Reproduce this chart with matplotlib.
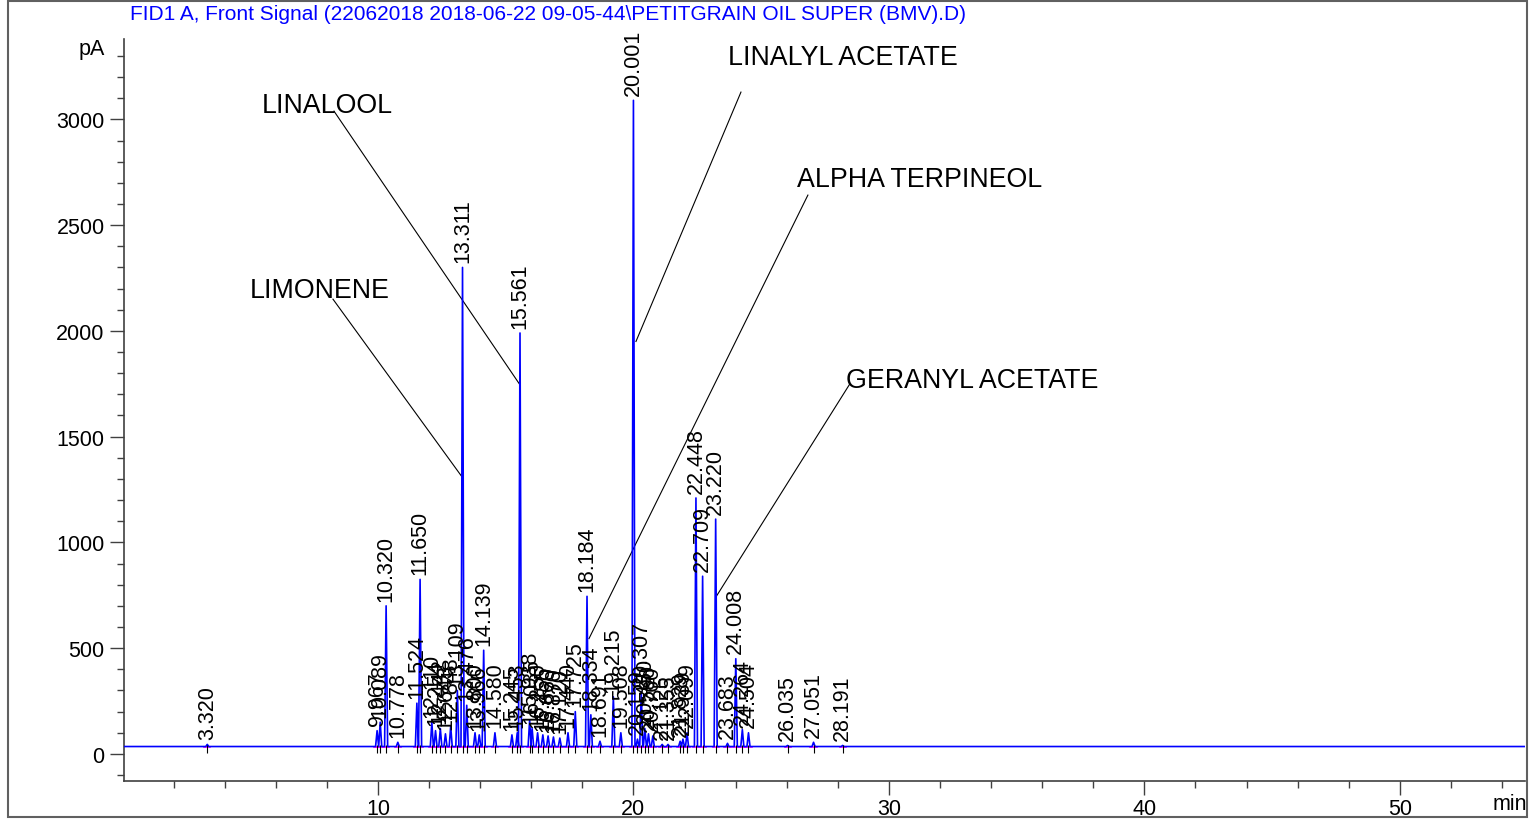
import matplotlib
matplotlib.use("Agg")
import matplotlib.pyplot as plt
from matplotlib.patches import Rectangle
from matplotlib.ticker import MultipleLocator
import numpy as np

plt.rcParams['font.family'] = ['Liberation Sans', 'DejaVu Sans']

# 피크 데이터 (retention time [min], 피크 높이 [pA])
rt = [3.320, 9.967, 10.089, 10.320, 10.778, 11.524, 11.650, 12.110, 12.254, 12.442,
      12.643, 12.848, 13.109, 13.311, 13.476, 13.800, 13.966, 14.139, 14.580, 15.245,
      15.453, 15.561, 15.938, 16.035, 16.250, 16.455, 16.660, 16.870, 17.120, 17.440,
      17.725, 18.184, 18.334, 18.691, 19.215, 19.508, 20.001, 20.159, 20.307, 20.450,
      20.590, 20.760, 21.125, 21.355, 21.829, 21.939, 22.099, 22.448, 22.709, 23.220,
      23.683, 24.008, 24.264, 24.504, 26.035, 27.051, 28.191]
height = [45, 110, 150, 700, 55, 240, 825, 150, 110, 120,
          95, 130, 300, 2300, 230, 100, 90, 490, 100, 90,
          100, 1990, 160, 120, 100, 90, 85, 80, 75, 100,
          200, 745, 185, 60, 270, 100, 3090, 70, 295, 120,
          95, 85, 45, 45, 60, 70, 100, 1210, 840, 1110,
          50, 450, 115, 100, 40, 55, 40]
baseline = 35

# 화합물 이름 (이름, 피크 위치, 글자 위치, 선 시작)
names = ["LINALOOL", "LIMONENE", "LINALYL ACETATE", "ALPHA TERPINEOL", "GERANYL ACETATE"]
name_peak = [(15.56, 1745), (13.29, 1310), (20.10, 1950), (18.26, 545), (23.23, 742)]
name_text = [(5.46, 3067), (4.99, 2193), (23.70, 3294), (26.40, 2717), (28.32, 1767)]
name_line = [(8.28, 3039), (8.24, 2150), (24.21, 3129), (26.83, 2642), (28.47, 1749)]

title = "FID1 A, Front Signal (22062018 2018-06-22 09-05-44\\PETITGRAIN OIL SUPER (BMV).D)"

fig = plt.figure(figsize=(15.29, 8.2), dpi=100)
ax = fig.add_axes([124 / 1529, 1 - 782 / 820, (1525 - 124) / 1529, (782 - 40) / 820])

# 크로마토그램 (피크를 좁은 삼각형으로)
hw = 0.06
xs, ys = [0.06], [baseline]
for t, h in sorted(zip(rt, height)):
    xs += [t - hw, t, t + hw]
    ys += [baseline, h, baseline]
xs.append(54.9)
ys.append(baseline)
ax.plot(xs, ys, color="#0000ff", lw=1.2, zorder=3)

# 적분 베이스라인 / 마커
for t in rt:
    ax.plot([t - 0.12, t + 0.12], [baseline, baseline], color="#ff00ff", lw=1.2, zorder=2)
ax.vlines(rt, baseline - 30, baseline + 5, color="black", lw=0.8, zorder=4)

# 피크 라벨
for t, h in zip(rt, height):
    ax.text(t, h + 25, "%.3f" % t, rotation=90, ha="center", va="bottom",
            fontsize=15.5, zorder=5)

# 화합물 이름 + 지시선
for n, p, tx, ln in zip(names, name_peak, name_text, name_line):
    ax.text(tx[0], tx[1], n, fontsize=19.3, va="center", ha="left")
    ax.plot([ln[0], p[0]], [ln[1], p[1]], color="black", lw=0.8)

ax.set_xlim(0.06, 54.9)
ax.set_ylim(-128, 3380)
ax.xaxis.set_minor_locator(MultipleLocator(2))
ax.yaxis.set_minor_locator(MultipleLocator(100))
ax.set_xticks([10, 20, 30, 40, 50])
ax.set_yticks([0, 500, 1000, 1500, 2000, 2500, 3000])
ax.tick_params(which="major", length=10, width=1, labelsize=15.5, color="#404040", pad=4)
ax.tick_params(axis="x", which="major", pad=2)
ax.tick_params(which="minor", length=5, width=1, color="#404040")
for s in ["top", "right"]:
    ax.spines[s].set_visible(False)
for s in ["left", "bottom"]:
    ax.spines[s].set_color("#404040")
    ax.spines[s].set_linewidth(1.2)

fig.text(105 / 1529, 1 - 50 / 820, "pA", ha="right", va="center", fontsize=15.5)
fig.text(1527 / 1529, 1 - 805 / 820, "min", ha="right", va="center", fontsize=15.5)
fig.text(130 / 1529, 1 - 14 / 820, title, ha="left", va="center", color="#0000ff", fontsize=15)

fig.add_artist(Rectangle((8 / 1529, 2 / 820), (1527 - 8) / 1529, (818 - 2) / 820,
                         transform=fig.transFigure, fill=False, edgecolor="#606060", lw=1.5))

plt.savefig("out.png", dpi=100)
